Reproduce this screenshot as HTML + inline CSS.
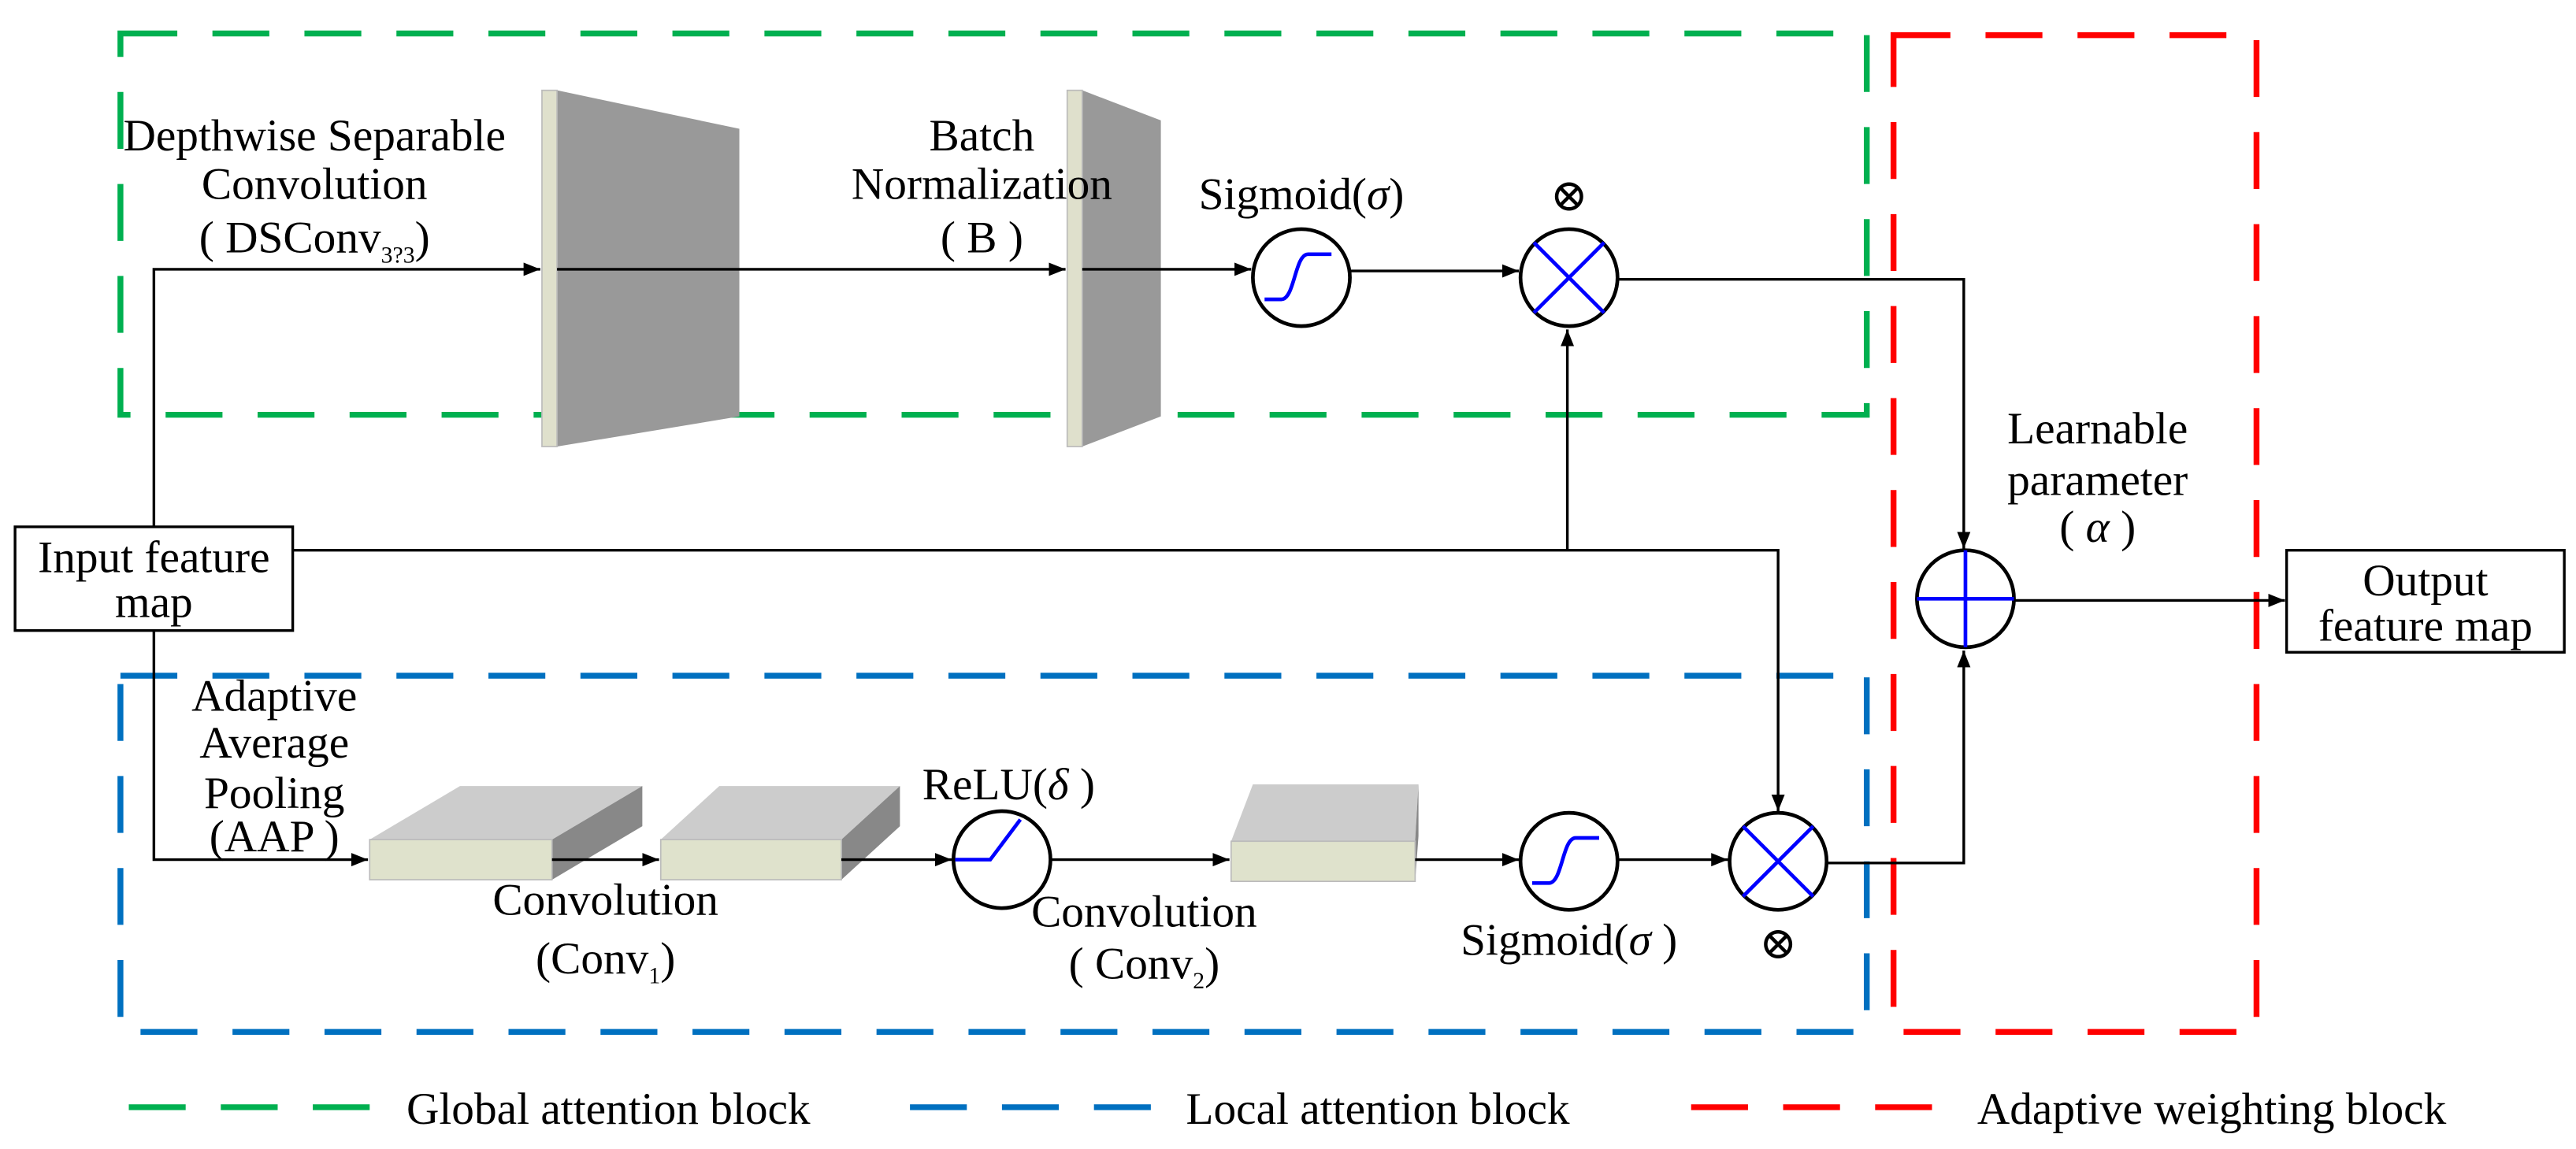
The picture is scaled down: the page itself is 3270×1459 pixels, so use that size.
<!DOCTYPE html>
<html><head><meta charset="utf-8"><style>
html,body{margin:0;padding:0;background:#fff;}
svg{display:block;}
svg text{font-family:"Liberation Serif","DejaVu Serif",serif !important;font-size:27px;fill:#000;}
</style></head><body>
<svg width="3270" height="1459" viewBox="0 0 1540 687" preserveAspectRatio="none" xmlns="http://www.w3.org/2000/svg" font-family="Liberation Serif, serif">
<defs>
<marker id="a" markerWidth="10" markerHeight="8" refX="10" refY="4" orient="auto" markerUnits="userSpaceOnUse">
<path d="M0,0 L10,4 L0,8 Z" fill="#000"/></marker>
</defs>
<g fill="none" stroke-width="3.5" stroke-dasharray="34 21">
<rect x="72" y="20" width="1044" height="228" stroke="#00b050"/>
<rect x="72" y="404" width="1044" height="213" stroke="#0070c0"/>
<rect x="1132" y="21" width="217" height="596" stroke="#ff0000"/>
</g>
<polygon points="333,54 442,77 442,249 333,267" fill="#999"/>
<rect x="324" y="54" width="9" height="213" fill="#dfe0cc" stroke="#bbb" stroke-width="0.8"/>
<polygon points="647,54 694,72 694,249 647,267" fill="#999"/>
<rect x="638" y="54" width="9" height="213" fill="#dfe0cc" stroke="#bbb" stroke-width="0.8"/>
<polygon points="221,502 275,470 384,470 330,502" fill="#ccc"/>
<polygon points="330,502 384,470 384,494 330,526" fill="#888"/>
<rect x="221" y="502" width="109" height="24" fill="#dfe2cc" stroke="#bbb" stroke-width="0.8"/>
<polygon points="395,502 430,470 538,470 503,502" fill="#ccc"/>
<polygon points="503,502 538,470 538,494 503,526" fill="#888"/>
<rect x="395" y="502" width="108" height="24" fill="#dfe2cc" stroke="#bbb" stroke-width="0.8"/>
<polygon points="736,503 749,469 848,469 846,503" fill="#ccc"/>
<polygon points="846,503 848,469 848,500 846,527" fill="#888"/>
<rect x="736" y="503" width="110" height="24" fill="#dfe2cc" stroke="#bbb" stroke-width="0.8"/>
<g stroke="#000" stroke-width="1.6" fill="none">
<path d="M92,315 V161 H323" marker-end="url(#a)"/>
<path d="M333,161 H637" marker-end="url(#a)"/>
<path d="M647,161 H748" marker-end="url(#a)"/>
<path d="M807,162 H908" marker-end="url(#a)"/>
<path d="M967,167 H1174 V328" marker-end="url(#a)"/>
<path d="M175,329 H1063 V485" marker-end="url(#a)"/>
<path d="M937,329 V197" marker-end="url(#a)"/>
<path d="M92,377 V514 H220" marker-end="url(#a)"/>
<path d="M330,514 H394" marker-end="url(#a)"/>
<path d="M503,514 H569" marker-end="url(#a)"/>
<path d="M628,514 H735" marker-end="url(#a)"/>
<path d="M846,514 H908" marker-end="url(#a)"/>
<path d="M967,514 H1033" marker-end="url(#a)"/>
<path d="M1092,516 H1174 V389" marker-end="url(#a)"/>
<path d="M1204,359 H1366" marker-end="url(#a)"/>
</g>
<g stroke="#000" stroke-width="2.2" fill="#fff">
<ellipse cx="778" cy="166" rx="29" ry="29"/>
<ellipse cx="938" cy="166" rx="29" ry="29"/>
<ellipse cx="1175" cy="358" rx="29" ry="29"/>
<ellipse cx="599" cy="514" rx="29" ry="29"/>
<ellipse cx="938" cy="515" rx="29" ry="29"/>
<ellipse cx="1063" cy="515" rx="29" ry="29"/>
</g>
<g stroke="#0000ff" stroke-width="2.2" fill="none">
<path d="M756,179 H766 C774,179 774,152 782,152 H796"/>
<path d="M917,145 L959,187 M959,145 L917,187"/>
<path d="M1146,358 H1204 M1175,329 V387"/>
<path d="M571,514 H592 L610,490"/>
<path d="M916,528 H926 C934,528 934,501 942,501 H956"/>
<path d="M1042,494 L1084,536 M1084,494 L1042,536"/>
</g>
<rect x="9" y="315" width="166" height="62" fill="#fff" stroke="#000" stroke-width="1.6"/>
<text x="92" y="342" text-anchor="middle">Input feature</text>
<text x="92" y="369" text-anchor="middle">map</text>
<rect x="1367" y="329" width="166" height="61" fill="#fff" stroke="#000" stroke-width="1.6"/>
<text x="1450" y="356" text-anchor="middle">Output</text>
<text x="1450" y="383" text-anchor="middle">feature map</text>
<g text-anchor="middle">
<text x="188" y="90">Depthwise Separable</text>
<text x="188" y="119">Convolution</text>
<text x="188" y="151">( DSConv<tspan font-size="14" dy="6">3?3</tspan><tspan dy="-6">)</tspan></text>
<text x="587" y="90">Batch</text>
<text x="587" y="119">Normalization</text>
<text x="587" y="151">( B )</text>
<text x="778" y="125">Sigmoid(<tspan font-style="italic">σ</tspan>)</text>
<text x="938" y="126">⊗</text>
<text x="1254" y="265">Learnable</text>
<text x="1254" y="296">parameter</text>
<text x="1254" y="324">( <tspan font-style="italic">α</tspan> )</text>
<text x="164" y="425">Adaptive</text>
<text x="164" y="453">Average</text>
<text x="164" y="483">Pooling</text>
<text x="164" y="509">(AAP )</text>
<text x="362" y="547">Convolution</text>
<text x="362" y="582">(Conv<tspan font-size="14" dy="6">1</tspan><tspan dy="-6">)</tspan></text>
<text x="603" y="478">ReLU(<tspan font-style="italic">δ</tspan> )</text>
<text x="684" y="554">Convolution</text>
<text x="684" y="585">( Conv<tspan font-size="14" dy="6">2</tspan><tspan dy="-6">)</tspan></text>
<text x="938" y="571">Sigmoid(<tspan font-style="italic">σ</tspan> )</text>
<text x="1063" y="573">⊗</text>
</g>
<g stroke-width="3.5" stroke-dasharray="34 21">
<line x1="77" y1="662" x2="224" y2="662" stroke="#00b050"/>
<line x1="544" y1="662" x2="691" y2="662" stroke="#0070c0"/>
<line x1="1011" y1="662" x2="1158" y2="662" stroke="#ff0000"/>
</g>
<text x="243" y="672">Global attention block</text>
<text x="709" y="672">Local attention block</text>
<text x="1182" y="672">Adaptive weighting block</text>
</svg>
</body></html>
